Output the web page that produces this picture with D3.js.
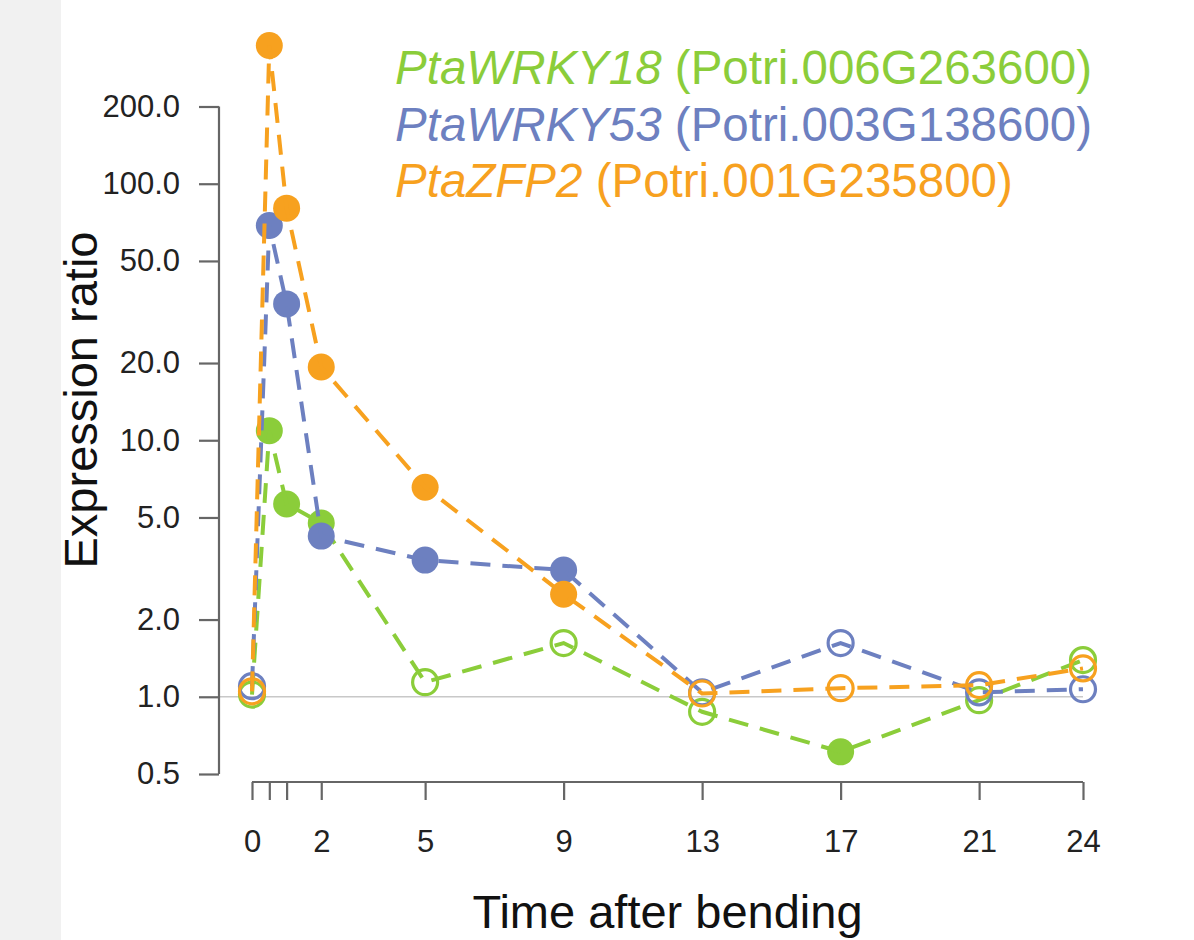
<!DOCTYPE html>
<html>
<head>
<meta charset="utf-8">
<script src="https://cdn.jsdelivr.net/npm/d3@7"></script>
<style>
  body { margin: 0; background: #fff; }
  svg { display: block; font-family: "Liberation Sans", Arial, sans-serif; }
</style>
</head>
<body>
<div id="chart"></div>
<script>
// time points (hours after bending)
var times = [0, 0.5, 1, 2, 5, 9, 13, 17, 21, 24];
var timeLabels = ["0", "", "", "2", "5", "9", "13", "17", "21", "24"];
var yTicks = [0.5, 1, 2, 5, 10, 20, 50, 100, 200];

// expression ratios
var wrky18 = [1.02, 10.9, 5.64, 4.76, 1.14, 1.62, 0.874, 0.61, 0.97, 1.39];
var wrky53 = [1.10, 68.7, 34.0, 4.23, 3.41, 3.12, 1.04, 1.62, 1.04, 1.07];
var zfp2   = [1.05, 346, 80.3, 19.3, 6.56, 2.51, 1.03, 1.08, 1.11, 1.29];

// filled point = significant, open = not
var wrky18Sig = [0, 1, 1, 1, 0, 0, 0, 1, 0, 0];
var wrky53Sig = [0, 1, 1, 1, 1, 1, 0, 0, 0, 0];
var zfp2Sig   = [0, 1, 1, 1, 1, 1, 0, 0, 0, 0];

var geneNames = ["PtaWRKY18", "PtaWRKY53", "PtaZFP2"];
var geneIds = ["(Potri.006G263600)", "(Potri.003G138600)", "(Potri.001G235800)"];
var colors = ["#8bcd3a", "#6d80c0", "#f7a11f"];

var series = [
  {name: geneNames[0], id: geneIds[0], values: wrky18, sig: wrky18Sig, color: colors[0]},
  {name: geneNames[1], id: geneIds[1], values: wrky53, sig: wrky53Sig, color: colors[1]},
  {name: geneNames[2], id: geneIds[2], values: zfp2, sig: zfp2Sig, color: colors[2]}
];

var width = 1194, height = 940;

var x = d3.scaleLinear().domain([0, 24]).range([252, 1083]);
var y = d3.scaleLog().domain([0.5, 200]).range([774, 106.5]);

var svg = d3.select("#chart").append("svg")
  .attr("width", width)
  .attr("height", height);

svg.append("rect").attr("x", 0).attr("y", 0).attr("width", 61).attr("height", height)
  .attr("fill", "#f1f1f1");

// reference line at ratio 1
svg.append("line")
  .attr("x1", 220).attr("x2", x(24))
  .attr("y1", y(1)).attr("y2", y(1))
  .attr("stroke", "#c8c8c8").attr("stroke-width", 1.5);

// y axis
var yAxis = svg.append("g")
  .attr("transform", "translate(219,0)")
  .call(d3.axisLeft(y).tickValues(yTicks).tickSize(20).tickPadding(19)
        .tickFormat(function(d) { return d3.format(".1f")(d); }));
yAxis.select(".domain").attr("d", "M0," + y(0.5) + "V" + y(200));

// x axis
var xAxis = svg.append("g")
  .attr("transform", "translate(0,782)")
  .call(d3.axisBottom(x).tickValues(times).tickSize(18).tickPadding(30)
        .tickFormat(function(d, i) { return timeLabels[i]; }));
xAxis.select(".domain").attr("d", "M" + x(0) + ",0H" + x(24));

svg.selectAll(".domain, .tick line").attr("stroke", "#666").attr("stroke-width", 2.2);
svg.selectAll(".tick text").attr("fill", "#222").style("font-size", "31px")
  .style("font-family", "'Liberation Sans', Arial, sans-serif");

// axis titles
svg.append("text")
  .attr("x", (x(0) + x(24)) / 2).attr("y", 928)
  .attr("text-anchor", "middle")
  .style("font-size", "47px").attr("fill", "#111")
  .text("Time after bending");

svg.append("text")
  .attr("transform", "translate(97,400) rotate(-90)")
  .attr("text-anchor", "middle")
  .style("font-size", "47px").attr("fill", "#111")
  .text("Expression ratio");

// series
var line = d3.line()
  .x(function(d, i) { return x(times[i]); })
  .y(function(d) { return y(d); });

series.forEach(function(s) {
  var g = svg.append("g");
  g.selectAll("circle")
    .data(s.values)
    .enter()
    .append("circle")
    .attr("cx", function(d, i) { return x(times[i]); })
    .attr("cy", function(d) { return y(d); })
    .attr("r", function(d, i) { return s.sig[i] ? 13.5 : 12.5; })
    .attr("fill", function(d, i) { return s.sig[i] ? s.color : "none"; })
    .attr("stroke", s.color)
    .attr("stroke-width", function(d, i) { return s.sig[i] ? 0 : 3.2; });
  g.append("path")
    .datum(s.values)
    .attr("d", line)
    .attr("fill", "none")
    .attr("stroke", s.color)
    .attr("stroke-width", 4)
    .attr("stroke-dasharray", "20,12");
});

// legend
var legend = svg.append("g");
series.forEach(function(s, i) {
  var t = legend.append("text")
    .attr("x", 395).attr("y", 84 + i * 56.5)
    .attr("fill", s.color)
    .style("font-size", "47.5px");
  t.append("tspan").style("font-style", "italic").text(s.name);
  t.append("tspan").text(" " + s.id);
});
</script>
</body>
</html>
